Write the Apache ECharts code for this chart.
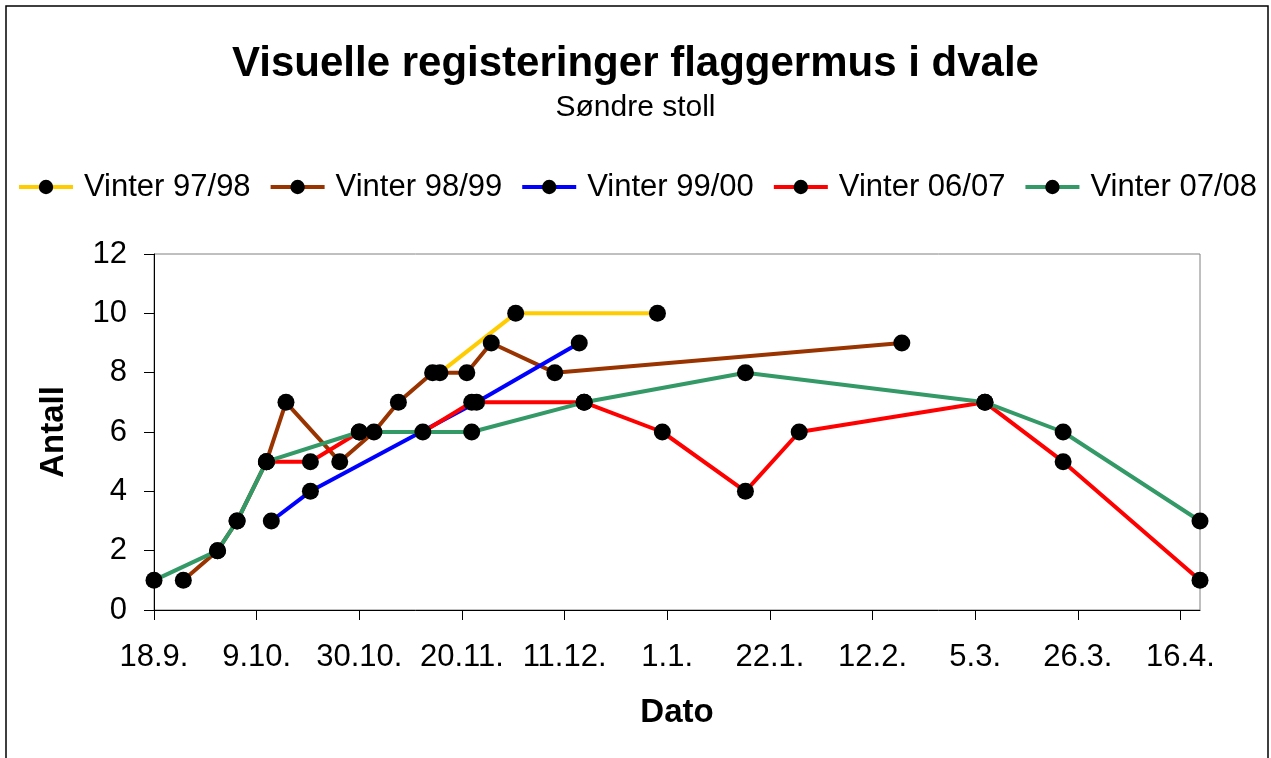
<!DOCTYPE html>
<html>
<head>
<meta charset="utf-8">
<script src="https://cdn.jsdelivr.net/npm/echarts@6/dist/echarts.min.js"></script>
<style>
html,body{margin:0;padding:0;background:#fff;}
#chart{width:1271px;height:758px;}
</style>
</head>
<body>
<div id="chart"></div>
<script>
// Day offsets counted from 18.9.
var xTickLabels = ['18.9.', '9.10.', '30.10.', '20.11.', '11.12.', '1.1.', '22.1.', '12.2.', '5.3.', '26.3.', '16.4.'];
var xTickStep = 21;
var yTickLabels = [0, 2, 4, 6, 8, 10, 12];

var seriesNames = ['Vinter 97/98', 'Vinter 98/99', 'Vinter 99/00', 'Vinter 06/07', 'Vinter 07/08'];

var days9798 = [58.5, 74, 103];
var vals9798 = [8, 10, 10];

var days9899 = [6, 13, 17, 23, 27, 38, 45, 50, 57, 64, 69, 82, 153];
var vals9899 = [1, 2, 3, 5, 7, 5, 6, 7, 8, 8, 9, 8, 9];

var days9900 = [24, 32, 66, 87];
var vals9900 = [3, 4, 7, 9];

var days0607 = [23, 32, 42, 55, 65, 88, 104, 121, 132, 170, 186, 214];
var vals0607 = [5, 5, 6, 6, 7, 7, 6, 4, 6, 7, 5, 1];

var days0708 = [0, 13, 17, 23, 42, 65, 88, 121, 170, 186, 214];
var vals0708 = [1, 2, 3, 5, 6, 6, 7, 8, 7, 6, 3];

var seriesColors = ['#FFCC00', '#993300', '#0000FF', '#FF0000', '#339966'];

function zip(d, v) { return d.map(function (x, i) { return [x, v[i]]; }); }
var allDays = [days9798, days9899, days9900, days0607, days0708];
var allVals = [vals9798, vals9899, vals9900, vals0607, vals0708];

var tickValues = xTickLabels.map(function (_, i) { return i * xTickStep; });
var FONT = '"Liberation Sans", Arial, sans-serif';

var chart = echarts.init(document.getElementById('chart'));
chart.setOption({
  animation: false,
  backgroundColor: '#fff',
  graphic: [{
    type: 'rect', z: -10, silent: true,
    shape: { x: 6, y: 6, width: 1262, height: 800 },
    style: { fill: 'none', stroke: '#000', lineWidth: 1.5 }
  }],
  title: [{
    text: 'Visuelle registeringer flaggermus i dvale',
    left: 'center', top: 42, padding: 0,
    textStyle: { fontFamily: FONT, fontSize: 42, fontWeight: 'bold', color: '#000', lineHeight: 44 }
  }, {
    text: 'Søndre stoll',
    left: 'center', top: 92, padding: 0,
    textStyle: { fontFamily: FONT, fontSize: 30, fontWeight: 'normal', color: '#000', lineHeight: 32 }
  }],
  legend: {
    data: seriesNames,
    left: 17, top: 171, padding: 0,
    itemWidth: 54, itemHeight: 18, itemGap: 18,
    lineStyle: { width: 4 },
    textStyle: { fontFamily: FONT, fontSize: 31, color: '#000', lineHeight: 32, padding: [0, 0, 0, 6] }
  },
  grid: {
    left: 154, right: 71, top: 254, bottom: 148,
    show: true, borderColor: '#808080', borderWidth: 1, backgroundColor: '#fff'
  },
  xAxis: {
    type: 'value', min: 0, max: 214, interval: xTickStep,
    name: 'Dato', nameLocation: 'middle', nameGap: 86,
    nameTextStyle: { fontFamily: FONT, fontSize: 33, fontWeight: 'bold', color: '#000' },
    axisLine: { lineStyle: { color: '#000', width: 1 } },
    axisTick: { show: true, length: 10, lineStyle: { color: '#000' }, customValues: tickValues },
    axisLabel: {
      fontFamily: FONT, fontSize: 31, color: '#000', margin: 32,
      customValues: tickValues,
      formatter: function (v) { return xTickLabels[Math.round(v / xTickStep)]; }
    },
    splitLine: { show: false }
  },
  yAxis: {
    type: 'value', min: yTickLabels[0], max: yTickLabels[yTickLabels.length - 1], interval: 2,
    name: 'Antall', nameLocation: 'middle', nameGap: 84, nameRotate: 90,
    nameTextStyle: { fontFamily: FONT, fontSize: 33, fontWeight: 'bold', color: '#000' },
    axisLine: { show: true, lineStyle: { color: '#000', width: 1 } },
    axisTick: { show: true, length: 10, lineStyle: { color: '#000' } },
    axisLabel: { fontFamily: FONT, fontSize: 31, color: '#000', margin: 27 },
    splitLine: { show: false }
  },
  series: seriesNames.map(function (name, i) {
    return {
      name: name, type: 'line',
      data: zip(allDays[i], allVals[i]),
      symbol: 'circle', symbolSize: 17,
      lineStyle: { color: seriesColors[i], width: 4 },
      itemStyle: { color: '#000', borderWidth: 0 },
      color: seriesColors[i]
    };
  })
});
</script>
</body>
</html>
